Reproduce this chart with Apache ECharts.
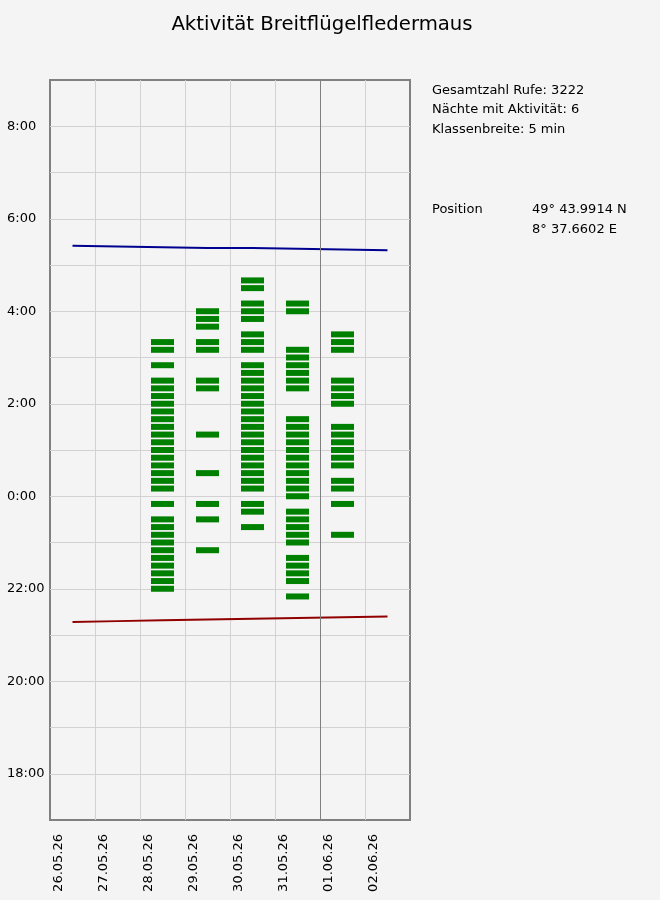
<!DOCTYPE html>
<html>
<head>
<meta charset="utf-8">
<script src="https://cdn.jsdelivr.net/npm/echarts@6/dist/echarts.min.js"></script>
<style>
html,body{margin:0;padding:0;background:#f4f4f4;}
#c{width:660px;height:900px;}
</style>
</head>
<body>
<div id="c"></div>
<script>
// ---- data ----
const titleText = 'Aktivität Breitflügelfledermaus';
const dates = ['26.05.26','27.05.26','28.05.26','29.05.26','30.05.26','31.05.26','01.06.26','02.06.26'];
// sunrise / sunset per date (local time)
const sunrise = ['5:25','5:24','5:23','5:22','5:22','5:21','5:20','5:19'];
const sunset  = ['21:17','21:18','21:19','21:20','21:21','21:22','21:23','21:24'];
// activity bins: minutes relative to midnight (negative = evening before)
const act2805 = [200,190,170,150,140,130,120,110,100,90,80,70,60,50,40,30,20,10,-10,-30,-40,-50,-60,-70,-80,-90,-100,-110,-120];
const act2905 = [240,230,220,200,190,150,140,80,30,-10,-30,-70];
const act3005 = [280,270,250,240,230,210,200,190,170,160,150,140,130,120,110,100,90,80,70,60,50,40,30,20,10,-10,-20,-40];
const act3105 = [250,240,190,180,170,160,150,140,100,90,80,70,60,50,40,30,20,10,0,-20,-30,-40,-50,-60,-80,-90,-100,-110,-130];
const act0106 = [210,200,190,150,140,130,120,90,80,70,60,50,40,20,10,-10,-50];
const activityDays = ['28.05.26','29.05.26','30.05.26','31.05.26','01.06.26'];
const activityBins = [act2805, act2905, act3005, act3105, act0106];
const markerDate = '01.06.26';
const infoLines = ['Gesamtzahl Rufe: 3222','Nächte mit Aktivität: 6','Klassenbreite: 5 min'];
const positionLabel = 'Position';
const positionLines = ['49° 43.9914 N','8° 37.6602 E'];

// ---- helpers ----
const FONT = 'DejaVu Sans';
function toHours(s){ const p = s.split(':').map(Number); return p[0] + p[1]/60; }
function nightHours(s){ const v = toHours(s); return v < 12 ? v + 24 : v; }

const sunriseData = sunrise.map((s,i)=>[i+0.5, nightHours(s)]);
const sunsetData  = sunset.map((s,i)=>[i+0.5, nightHours(s)]);
const barData = [];
activityDays.forEach((d,k)=>{
  const idx = dates.indexOf(d);
  activityBins[k].forEach(m=>barData.push([idx+0.5, 24 + m/60]));
});

const chart = echarts.init(document.getElementById('c'), null, {renderer:'canvas'});
const option = {
  animation:false,
  backgroundColor:'#f4f4f4',
  textStyle:{fontFamily:FONT},
  grid:[
    {left:50, right:250, top:80, bottom:80, show:true, borderColor:'#808080', borderWidth:2, backgroundColor:'transparent', containLabel:false, outerBoundsMode:'none'},
    {left:59, right:241, top:80, bottom:80, show:false, containLabel:false, outerBoundsMode:'none'}
  ],
  xAxis:[
    {gridIndex:0, type:'value', min:0, max:8, interval:1,
     axisLine:{show:false}, axisTick:{show:false}, axisLabel:{show:false},
     splitLine:{show:true, showMinLine:false, showMaxLine:false, lineStyle:{color:'#d2d2d2', width:1}}},
    {gridIndex:1, type:'value', min:0, max:8, interval:1,
     axisLine:{show:false}, axisTick:{show:false}, splitLine:{show:false},
     axisLabel:{show:true, rotate:90, margin:14, fontSize:13, fontFamily:FONT, color:'#000',
       formatter:function(v){ return (Number.isInteger(v) && v < dates.length) ? dates[v] : ''; }}}
  ],
  yAxis:[
    {gridIndex:0, type:'value', min:17, max:33, interval:1,
     axisLine:{show:false}, axisTick:{show:false},
     splitLine:{show:true, showMinLine:false, showMaxLine:false, lineStyle:{color:'#d2d2d2', width:1}},
     axisLabel:{margin:43, align:'left', fontSize:13, fontFamily:FONT, color:'#000', padding:[5,0,0,0],
       formatter:function(v){ if (v % 2 !== 0) return ''; return (v % 24) + ':00'; }}},
    {gridIndex:1, type:'value', min:17, max:33, show:false}
  ],
  series:[
    {type:'scatter', xAxisIndex:0, yAxisIndex:0, symbol:'rect', symbolSize:[23,6],
     itemStyle:{color:'#008000', opacity:1}, data:barData, silent:true},
    {type:'line', xAxisIndex:0, yAxisIndex:0, data:sunriseData, showSymbol:false, symbol:'none',
     lineStyle:{color:'#000090', width:2}, silent:true,
     markLine:{silent:true, symbol:'none', label:{show:false},
       lineStyle:{color:'#808080', width:1, type:'solid'},
       data:[{xAxis:dates.indexOf(markerDate)}]}},
    {type:'line', xAxisIndex:0, yAxisIndex:0, data:sunsetData, showSymbol:false, symbol:'none',
     lineStyle:{color:'#900000', width:2}, silent:true}
  ],
  graphic:[
    {type:'text', x:322, y:25, style:{text:titleText, fontSize:19.7, fontFamily:FONT, fill:'#000', align:'center', verticalAlign:'middle'}},
    {type:'text', x:432, y:90.5, style:{text:infoLines[0], fontSize:13, fontFamily:FONT, fill:'#000', align:'left', verticalAlign:'middle'}},
    {type:'text', x:432, y:110, style:{text:infoLines[1], fontSize:13, fontFamily:FONT, fill:'#000', align:'left', verticalAlign:'middle'}},
    {type:'text', x:432, y:130, style:{text:infoLines[2], fontSize:13, fontFamily:FONT, fill:'#000', align:'left', verticalAlign:'middle'}},
    {type:'text', x:432, y:210, style:{text:positionLabel, fontSize:13, fontFamily:FONT, fill:'#000', align:'left', verticalAlign:'middle'}},
    {type:'text', x:532, y:210, style:{text:positionLines[0], fontSize:13, fontFamily:FONT, fill:'#000', align:'left', verticalAlign:'middle'}},
    {type:'text', x:532, y:230, style:{text:positionLines[1], fontSize:13, fontFamily:FONT, fill:'#000', align:'left', verticalAlign:'middle'}}
  ]
};
chart.setOption(option);
</script>
</body>
</html>
